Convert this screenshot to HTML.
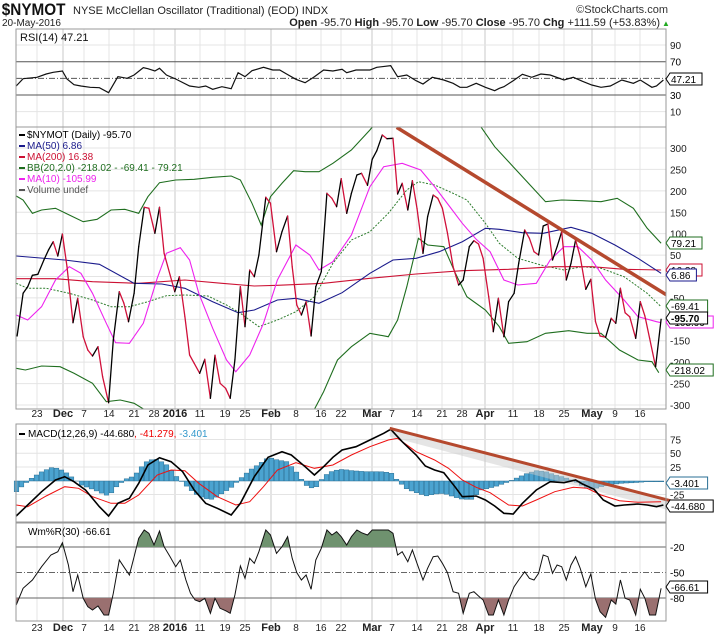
<!DOCTYPE html>
<html><head><meta charset="utf-8"><style>
body{margin:0;background:#fff;}
svg{display:block;font-family:"Liberation Sans",sans-serif;}
</style></head><body>
<div id="c"></div>
<script>
const W=715,H=641,L=16,R=666;
const X=zx=>zx/2.163;
let s='';
function pl(pts,fy,col,w,extra){return `<polyline fill="none" stroke="${col}" stroke-width="${w}" ${extra||''} points="${pts.map(p=>X(p[0]).toFixed(1)+','+fy(p[1]).toFixed(1)).join(' ')}"/>`;}
const PY=z=>z/3+120, RY=z=>z/3, MY=z=>z/3+400;
const yP=v=>276.5-0.4283*v, yR=v=>120-0.833*v, yM=v=>480.7-0.55*v, yW=v=>530-0.85*v;
const dates=[[37,'23'],[63,'Dec',1],[84,'7'],[109,'14'],[134,'21'],[154,'28'],[175,'2016',1],[200,'11'],[225,'19'],[245,'25'],[271,'Feb',1],[296,'8'],[321,'16'],[341,'22'],[372,'Mar',1],[392,'7'],[417,'14'],[442,'21'],[462,'28'],[485,'Apr',1],[513,'11'],[539,'18'],[564,'25'],[592,'May',1],[615,'9'],[640,'16']];
const panels=[[29,127],[127,409],[424,522],[523,621]];
// background grid
panels.forEach(([t,b])=>{
 dates.forEach(d=>{s+=`<line x1="${d[0]}" x2="${d[0]}" y1="${t}" y2="${b}" stroke="${d[2]?'#c8c8c8':'#e4e4e4'}" stroke-width="1"/>`;});
});
function hgrid(vals,fy,t,b){vals.forEach(v=>{const y=fy(v);if(y>t&&y<b)s+=`<line x1="${L}" x2="${R}" y1="${y}" y2="${y}" stroke="#e4e4e4"/>`;s+=`<text x="670" y="${y+4}" font-size="10" fill="#222">${v}</text>`;});}
hgrid([90,10],yR,29,127);
s+=`<line x1="${L}" x2="${R}" y1="${yR(70)}" y2="${yR(70)}" stroke="#555"/><text x="670" y="${yR(70)+4}" font-size="10">70</text>`;
s+=`<line x1="${L}" x2="${R}" y1="${yR(30)}" y2="${yR(30)}" stroke="#555"/><text x="670" y="${yR(30)+4}" font-size="10">30</text>`;
s+=`<line x1="${L}" x2="${R}" y1="${yR(50)}" y2="${yR(50)}" stroke="#555" stroke-dasharray="6,2,1,2"/>`;
let pv=[];for(let v=300;v>=-300;v-=50)pv.push(v);hgrid(pv,yP,127,409);
hgrid([75,50,25,-25],yM,424,522);
s+=`<line x1="${L}" x2="${R}" y1="${yW(-20)}" y2="${yW(-20)}" stroke="#666"/><text x="670" y="${yW(-20)+4}" font-size="10">-20</text>`;
s+=`<line x1="${L}" x2="${R}" y1="${yW(-80)}" y2="${yW(-80)}" stroke="#666"/><text x="670" y="${yW(-80)+4}" font-size="10">-80</text>`;
s+=`<line x1="${L}" x2="${R}" y1="${yW(-50)}" y2="${yW(-50)}" stroke="#666" stroke-dasharray="6,2,1,2"/><text x="670" y="${yW(-50)+4}" font-size="10">-50</text>`;
// date rows
[417,631].forEach(y=>dates.forEach(d=>{s+=`<text x="${d[0]}" y="${y}" font-size="${d[2]?11:10}" ${d[2]?'font-weight="bold"':''} text-anchor="middle" fill="#222">${d[1]}</text>`;}));
// RSI
const rsi=[[35,258],[50,236],[80,232],[100,222],[115,217],[135,213],[145,237],[160,254],[175,258],[195,262],[215,263],[235,278],[255,230],[275,235],[290,225],[310,203],[320,206],[335,213],[345,205],[360,225],[380,237],[410,258],[430,262],[445,258],[460,268],[480,260],[500,266],[515,218],[530,230],[545,212],[570,202],[590,210],[605,210],[620,222],[640,238],[660,248],[680,230],[700,210],[720,213],[740,208],[750,218],[770,210],[800,210],[815,202],[845,197],[860,230],[880,225],[900,242],[915,252],[935,232],[960,240],[980,250],[995,262],[1010,262],[1030,250],[1050,262],[1070,272],[1080,265],[1090,260],[1110,242],[1130,223],[1150,232],[1170,222],[1190,225],[1220,240],[1240,232],[1260,244],[1280,255],[1300,262],[1320,258],[1345,240],[1370,250],[1385,240],[1410,262],[1420,258],[1435,240]];
s+=pl(rsi,RY,'#111',1.2);
// price panel
s+=`<svg x="0" y="127" width="${R}" height="282" overflow="hidden"><g transform="translate(0,-127)">`;
const bbU=[[35,228],[50,240],[70,280],[90,270],[120,265],[150,285],[180,305],[210,298],[240,270],[270,268],[300,280],[320,230],[345,188],[380,180],[420,178],[460,172],[500,168],[520,180],[545,250],[565,315],[585,230],[610,190],[635,152],[660,155],[690,155],[720,130],[760,90],[800,30],[830,-20],[880,-60],[1000,-60],[1040,20],[1070,80],[1110,140],[1150,200],[1180,245],[1215,240],[1260,242],[1300,245],[1335,235],[1370,265],[1400,325],[1430,370]];
const bbL=[[35,745],[55,750],[90,738],[130,740],[160,760],[200,790],[230,845],[260,840],[290,850],[320,875],[360,880],[400,868],[450,868],[500,900],[600,930],[660,900],[680,868],[700,815],[730,720],[760,680],[800,640],[840,650],[860,600],[880,500],[905,355],[925,375],[960,380],[985,460],[1010,530],[1050,570],[1080,620],[1100,670],[1140,665],[1180,640],[1230,632],[1270,640],[1300,640],[1340,690],[1380,720],[1410,725],[1425,758]];
const bbM=[[35,490],[60,505],[100,505],[150,520],[200,540],[240,560],[280,560],[320,545],[360,527],[400,525],[450,528],[490,555],[520,580],[560,620],[600,600],[640,575],[680,530],[720,430],[760,360],[800,335],[840,280],[880,210],[905,185],[940,195],[980,220],[1010,240],[1050,310],[1080,370],[1120,415],[1170,435],[1220,450],[1260,440],[1300,445],[1350,470],[1400,520],[1430,560]];
const ma50=[[35,408],[140,420],[215,433],[290,490],[350,492],[400,505],[460,545],[515,578],[550,570],[600,540],[640,535],[690,550],[740,518],[800,460],[850,420],[900,415],[950,395],[1000,365],[1050,325],[1080,328],[1130,338],[1175,340],[1235,322],[1280,340],[1330,375],[1380,415],[1430,460]];
const ma200=[[35,476],[120,476],[200,485],[300,490],[400,480],[480,490],[550,498],[600,496],[700,490],[800,475],[900,462],[1000,452],[1100,448],[1200,440],[1280,440],[1350,448],[1430,450]];
const ma10=[[35,585],[60,600],[90,560],[120,480],[150,440],[175,460],[200,520],[230,610],[250,668],[280,670],[310,610],[340,475],[360,400],[390,383],[410,420],[430,520],[460,625],[490,720],[510,755],[540,705],[570,610],[600,480],[640,375],[670,405],[690,450],[720,425],[760,345],[800,200],[830,140],[870,130],[910,150],[940,200],[970,255],[1000,310],[1030,358],[1060,395],[1090,480],[1120,495],[1160,490],[1190,420],[1220,380],[1250,380],[1280,420],[1310,480],[1350,540],[1380,590],[1420,605],[1430,608]];
s+=pl(bbU,PY,'#1f6e1f',1.1)+pl(bbL,PY,'#1f6e1f',1.1)+pl(bbM,PY,'#2e7d2e',1,'stroke-dasharray="2,1.5"');
s+=pl(ma200,PY,'#cc1133',1.1)+pl(ma50,PY,'#1a1a8c',1.1)+pl(ma10,PY,'#ee22ee',1.1);
const pr=[[37,648],[50,520],[60,500],[70,466],[82,463],[95,420],[105,390],[115,365],[125,408],[135,342],[145,440],[158,608],[168,535],[180,650],[190,690],[200,708],[212,680],[222,770],[235,848],[245,660],[258,515],[268,550],[278,605],[290,520],[300,380],[312,262],[322,265],[335,340],[345,262],[355,400],[368,465],[378,515],[388,470],[400,590],[410,705],[420,730],[432,760],[443,718],[455,835],[465,706],[476,790],[488,805],[498,835],[508,720],[520,500],[530,620],[540,450],[550,470],[560,405],[575,232],[585,250],[598,395],[610,335],[622,288],[632,440],[642,555],[652,585],[662,545],[673,648],[683,500],[695,455],[707,220],[718,235],[728,260],[738,176],[750,280],[760,220],[772,165],[782,160],[795,196],[805,118],[815,92],[827,45],[837,56],[850,55],[860,222],[870,190],[882,270],[892,182],[902,265],[915,400],[925,290],[937,225],[947,235],[957,265],[968,340],[980,440],[992,495],[1002,480],[1015,380],[1025,362],[1035,372],[1045,415],[1057,530],[1067,635],[1078,535],[1090,650],[1100,545],[1112,520],[1122,430],[1135,330],[1145,355],[1155,395],[1165,405],[1175,318],[1185,312],[1195,420],[1205,380],[1215,335],[1225,480],[1235,430],[1245,360],[1255,410],[1267,508],[1278,478],[1288,605],[1298,648],[1310,652],[1322,595],[1332,610],[1342,505],[1352,578],[1362,590],[1375,655],[1385,545],[1395,588],[1405,655],[1418,740],[1430,598]];
for(let i=1;i<pr.length;i++){const a=pr[i-1],b=pr[i];s+=`<line x1="${X(a[0]).toFixed(1)}" y1="${PY(a[1]).toFixed(1)}" x2="${X(b[0]).toFixed(1)}" y2="${PY(b[1]).toFixed(1)}" stroke="${b[1]>a[1]?'#d0103a':'#000'}" stroke-width="1.3" stroke-linecap="round"/>`;}
s+=`<line x1="${X(858)}" y1="${PY(22)}" x2="${X(1450)}" y2="${PY(532)}" stroke="#b5492e" stroke-width="3.5"/>`;
s+=`</g></svg>`;
// MACD
let hist=[[35,275],[50,255],[70,232],[90,215],[110,203],[125,205],[140,215],[155,232],[175,255],[200,268],[220,280],[235,288],[250,262],[270,238],[290,228],[300,208],[320,180],[340,178],[360,195],[380,228],[400,255],[420,280],[440,295],[460,298],[480,280],[500,262],[520,235],[540,210],[560,192],[580,172],[600,180],[620,185],[640,215],[660,255],[680,268],[700,228],[720,212],[740,208],[760,212],[790,215],[820,215],[845,218],[860,243],[880,268],[900,278],[920,288],[940,282],[960,280],[980,290],[1000,298],[1020,298],[1040,270],[1070,260],[1100,245],[1120,232],[1140,220],[1160,212],[1180,215],[1200,225],[1220,232],[1240,242],[1260,258],[1280,268],[1300,260],[1320,255],[1340,250],[1370,248],[1400,245],[1435,245]];
function interp(arr,x){for(let i=1;i<arr.length;i++){if(x<=arr[i][0]){const a=arr[i-1],b=arr[i];return a[1]+(b[1]-a[1])*(x-a[0])/(b[0]-a[0]);}}return arr[arr.length-1][1];}
const z0=MY(243);
for(let x=X(35);x<=X(1435);x+=5){const y=MY(interp(hist,x*2.163));s+=`<rect x="${(x-2).toFixed(1)}" y="${Math.min(y,z0).toFixed(1)}" width="4.6" height="${Math.abs(y-z0).toFixed(1)}" fill="#4ba3d0" stroke="#2a6f94" stroke-width="0.5"/>`;}
const macd=[[35,348],[60,315],[90,275],[120,240],[140,230],[160,245],[185,270],[215,320],[235,348],[255,310],[280,295],[300,250],[320,195],[345,173],[370,185],[395,215],[420,270],[445,310],[470,325],[500,345],[520,310],[550,230],[580,172],[610,155],[630,165],[660,200],[680,225],[700,200],[720,172],[740,150],[770,140],[800,120],[830,100],[845,88],[870,125],[900,165],[920,198],[940,210],[960,218],[985,262],[1000,290],[1030,288],[1050,300],[1070,318],[1090,340],[1110,342],[1130,310],[1160,270],[1190,245],[1220,248],[1245,240],[1260,252],[1285,268],[1305,300],[1330,318],[1350,315],[1380,312],[1400,315],[1420,320],[1435,315]];
const sig=[[35,315],[60,320],[100,288],[140,260],[170,265],[200,290],[240,310],[270,310],[300,285],[340,225],[370,210],[400,212],[430,250],[470,290],[510,315],[540,305],[570,260],[600,210],[640,188],[680,205],[720,195],[760,165],[800,140],[840,120],[860,115],[900,155],[940,180],[970,205],[1000,240],[1030,262],[1060,278],[1100,315],[1130,318],[1160,300],[1200,275],[1240,262],[1270,265],[1300,285],[1340,302],[1380,307],[1430,305]];
s+=`<polygon points="${X(843)},${MY(85)} ${X(1445)},${MY(300)} ${X(1445)},${MY(330)} ${X(843)},${MY(110)}" fill="#cccccc" opacity="0.5"/>`;
s+=pl(sig,MY,'#ee1111',1)+pl(macd,MY,'#000',1.6);
s+=`<line x1="${X(843)}" y1="${MY(85)}" x2="${X(1450)}" y2="${MY(302)}" stroke="#b5492e" stroke-width="3"/>`;
// Wm%R
const wm=[[35,615],[50,565],[70,540],[90,500],[110,465],[125,455],[135,428],[148,495],[158,575],[168,525],[180,595],[190,620],[200,630],[212,618],[225,645],[235,645],[245,580],[258,480],[270,505],[280,525],[290,470],[300,415],[312,390],[322,400],[333,435],[345,393],[355,440],[368,470],[380,500],[390,480],[402,540],[412,580],[422,600],[432,605],[443,595],[455,640],[465,595],[476,625],[488,632],[498,640],[508,585],[520,498],[530,535],[540,475],[550,490],[560,455],[575,390],[585,405],[598,460],[610,440],[622,410],[632,475],[642,518],[652,540],[662,525],[673,568],[683,480],[695,445],[707,390],[718,405],[728,395],[738,410],[750,435],[760,410],[772,390],[782,398],[795,405],[805,390],[840,390],[850,400],[860,465],[870,455],[882,485],[892,450],[902,490],[915,540],[925,505],[937,470],[947,468],[957,490],[968,518],[980,575],[992,580],[1002,640],[1015,580],[1025,575],[1035,588],[1045,600],[1057,645],[1067,645],[1078,600],[1090,645],[1100,600],[1112,560],[1122,540],[1135,515],[1145,535],[1155,540],[1165,520],[1175,465],[1185,470],[1195,520],[1205,495],[1215,500],[1225,540],[1235,495],[1245,470],[1255,505],[1267,560],[1278,522],[1288,598],[1298,635],[1310,652],[1322,600],[1332,612],[1342,540],[1352,595],[1362,600],[1375,645],[1385,568],[1395,595],[1405,645],[1418,645],[1430,565]];
const ptsW=wm.map(p=>X(p[0]).toFixed(1)+','+MY(p[1]).toFixed(1)).join(' ');
const y20=yW(-20),y80=yW(-80);
s+=`<defs><clipPath id="ca"><rect x="0" y="523" width="${R}" height="${y20-523}"/></clipPath><clipPath id="cb"><rect x="0" y="${y80}" width="${R}" height="${621-y80}"/></clipPath></defs>`;
s+=`<polygon clip-path="url(#ca)" points="${X(35)},${y20} ${ptsW} ${X(1430)},${y20}" fill="#6f926f" stroke="none"/>`;
s+=`<polygon clip-path="url(#cb)" points="${X(35)},${y80} ${ptsW} ${X(1430)},${y80}" fill="#9a7070" stroke="none"/>`;
s+=`<polyline points="${ptsW}" fill="none" stroke="#111" stroke-width="1"/>`;
// panel borders
panels.forEach(([t,b])=>{s+=`<rect x="${L}" y="${t}" width="${R-L}" height="${b-t}" fill="none" stroke="#999"/>`;});
// legends
s+=`<text x="20" y="41" font-size="11" fill="#111">RSI(14) 47.21</text>`;
const lg=[['#000','$NYMOT (Daily) -95.70'],['#1a1a8c','MA(50) 6.86'],['#cc1133','MA(200) 16.38'],['#1f6e1f','BB(20,2.0) -218.02 - -69.41 - 79.21'],['#ee22ee','MA(10) -105.99'],['#555','Volume undef']];
lg.forEach((l,i)=>{const y=138+i*11;s+=`<rect x="19" y="${y-4}" width="6" height="2" fill="${l[0]}"/><text x="27" y="${y}" font-size="10" fill="${i==0?'#000':l[0]}">${l[1]}</text>`;});
s+=`<rect x="19" y="${433}" width="6" height="2" fill="#000"/><text x="28" y="437" font-size="10">MACD(12,26,9) -44.680<tspan fill="#e00">, -41.279,</tspan><tspan fill="#3399cc"> -3.401</tspan></text>`;
s+=`<text x="28" y="535" font-size="10">Wm%R(30) -66.61</text>`;
// value boxes
function box(y,txt,col,bold){s+=`<path d="M666 ${y} l4 -6 h${txt.length*5.6+4} v12 h-${txt.length*5.6+4} z" fill="#fff" stroke="${col}"/><text x="671" y="${y+4}" font-size="10" fill="#000" ${bold?'font-weight="bold"':''}>${txt}</text>`;}
box(79,'47.21','#000');
box(243,'79.21','#1f6e1f');box(270,'16.38','#cc1133');box(275,'6.86','#1a1a8c');box(306,'-69.41','#1f6e1f');box(322,'-105.99','#ee22ee');box(318,'-95.70','#000',1);box(370,'-218.02','#1f6e1f');
box(483,'-3.401','#2a6f94');box(506,'-44.680','#000');box(587,'-66.61','#000');
// header
s+=`<text x="2" y="15" font-size="17" font-weight="bold" fill="#111" transform="scale(0.9,1)">$NYMOT</text><text x="73" y="14" font-size="11" fill="#222">NYSE McClellan Oscillator (Traditional) (EOD) INDX</text>`;
s+=`<text x="2" y="26" font-size="10" fill="#222">20-May-2016</text>`;
s+=`<text x="660" y="26" font-size="11" text-anchor="end" fill="#222"><tspan font-weight="bold">Open</tspan> -95.70 <tspan font-weight="bold">High</tspan> -95.70 <tspan font-weight="bold">Low</tspan> -95.70 <tspan font-weight="bold">Close</tspan> -95.70 <tspan font-weight="bold">Chg</tspan> +111.59 (+53.83%)</text><text x="662" y="26" font-size="8" fill="#2a2">▲</text>`;
s+=`<text x="668" y="13" font-size="11" text-anchor="end" fill="#333">©StockCharts.com</text>`;
document.getElementById('c').innerHTML=`<svg width="${W}" height="${H}" viewBox="0 0 ${W} ${H}">${s}</svg>`;
</script>
</body></html>
